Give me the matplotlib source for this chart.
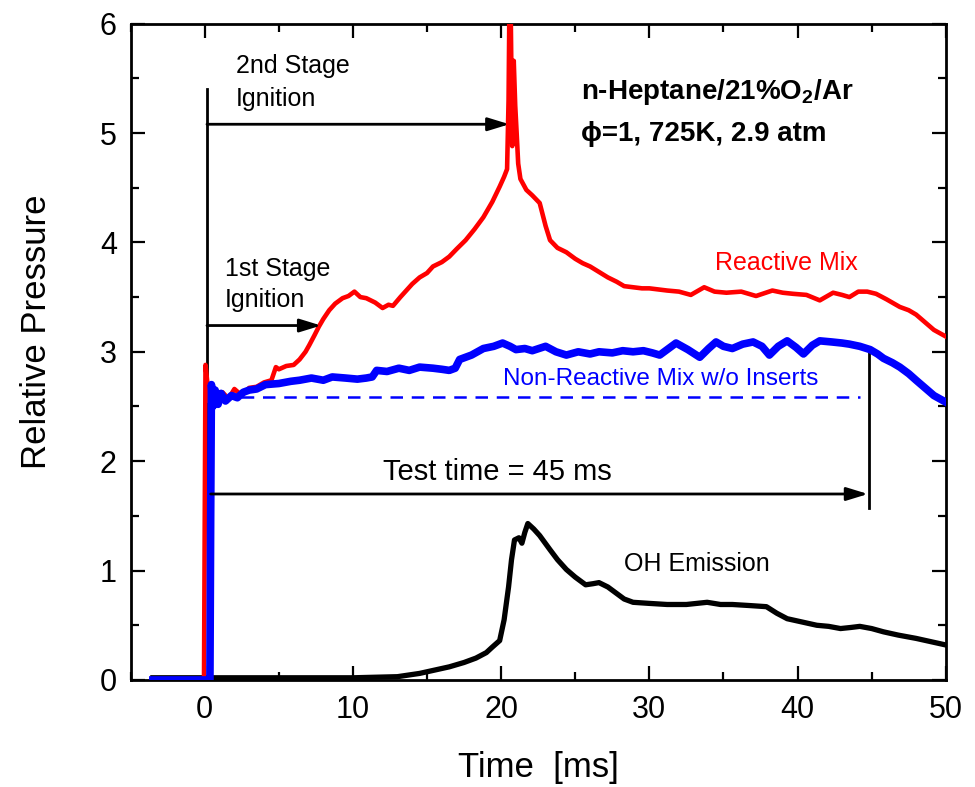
import numpy as np
import matplotlib
matplotlib.use("Agg")
import matplotlib.pyplot as plt
from matplotlib.ticker import MultipleLocator

plt.rcParams['font.family'] = ['Liberation Sans', 'DejaVu Sans']
plt.rcParams['mathtext.fontset'] = 'custom'
plt.rcParams['mathtext.rm'] = 'Liberation Sans'
plt.rcParams['mathtext.bf'] = 'Liberation Sans:bold'

# Reactive mix (red)
red_t = [-3.5, -0.05, 0.0, 0.05, 0.15, 0.3, 0.5, 0.8, 1.2, 1.6, 2.0, 2.5, 3.0, 3.5,
         4.0, 4.5, 4.8, 5.0, 5.5, 6.0, 6.4, 6.8, 7.05, 7.4, 7.7, 8.0, 8.4, 8.8, 9.3,
         9.7, 10.1, 10.5, 10.9, 11.5, 12.0, 12.4, 12.7, 13.2, 13.6, 14.0, 14.5, 15.0,
         15.4, 16.0, 16.5, 17.0, 17.6, 18.2, 18.8, 19.4, 19.9, 20.2, 20.4, 20.5, 20.55,
         20.65, 20.75, 20.85, 20.95, 21.05, 21.15, 21.3, 21.7, 22.1, 22.6, 23.0, 23.3,
         23.8, 24.4, 25.0, 25.5, 26.0, 26.6, 27.2, 27.8, 28.3, 28.9, 29.5, 30.0, 31.2,
         32.0, 32.8, 33.7, 34.4, 35.2, 36.2, 37.2, 38.3, 39.0, 39.7, 40.6, 41.5, 42.4,
         43.0, 43.5, 44.1, 44.7, 45.3, 46.0, 46.9, 47.5, 48.0, 48.6, 49.2, 50.0]
red_p = [0, 0, 1.5, 2.88, 2.75, 2.55, 2.62, 2.58, 2.63, 2.57, 2.66, 2.6, 2.67, 2.68,
         2.72, 2.74, 2.86, 2.84, 2.87, 2.88, 2.93, 3.0, 3.06, 3.15, 3.23, 3.3, 3.38, 3.44,
         3.49, 3.51, 3.55, 3.5, 3.49, 3.45, 3.40, 3.43, 3.42, 3.5, 3.56, 3.62, 3.68, 3.72,
         3.78, 3.82, 3.87, 3.94, 4.02, 4.12, 4.23, 4.37, 4.51, 4.6, 4.67, 5.3, 6.05,
         6.05, 4.88, 5.66, 5.25, 4.99, 4.72, 4.58, 4.48, 4.43, 4.36, 4.15, 4.02,
         3.95, 3.91, 3.85, 3.81, 3.78, 3.73, 3.68, 3.64, 3.6, 3.59, 3.58, 3.58, 3.56,
         3.55, 3.52, 3.59, 3.55, 3.54, 3.55, 3.51, 3.56, 3.54, 3.53, 3.52, 3.47, 3.54,
         3.52, 3.50, 3.55, 3.55, 3.53, 3.48, 3.41, 3.38, 3.34, 3.27, 3.2, 3.14]

# Non-reactive mix w/o inserts (blue)
blue_t = [-3.5, 0.35, 0.4, 0.45, 0.55, 0.7, 0.9, 1.1, 1.4, 1.8, 2.2, 2.6, 3.0, 3.5,
          4.1, 5.0, 5.8, 6.4, 7.2, 8.0, 8.6, 9.5, 10.3, 10.9, 11.3, 11.6, 12.3, 13.1,
          13.8, 14.5, 15.4, 16.0, 16.5, 16.9, 17.2, 18.0, 18.8, 19.5, 20.1, 20.6, 21.0,
          21.6, 22.1, 23.0, 23.7, 24.4, 25.2, 26.0, 26.6, 27.5, 28.2, 28.9, 29.6, 30.2,
          30.7, 31.2, 31.8, 32.6, 33.4, 34.0, 34.5, 35.0, 35.6, 36.3, 37.0, 37.6, 38.1,
          38.7, 39.3, 39.9, 40.4, 41.0, 41.5, 42.3, 43.0, 43.5, 44.2, 44.9, 45.4, 45.8,
          46.4, 46.9, 47.5, 48.0, 48.6, 49.2, 50.0]
blue_p = [0, 0, 1.5, 2.7, 2.5, 2.65, 2.52, 2.62, 2.55, 2.6, 2.58, 2.63, 2.65, 2.66,
          2.7, 2.71, 2.73, 2.74, 2.76, 2.74, 2.77, 2.76, 2.75, 2.76, 2.77, 2.83, 2.82, 2.85,
          2.83, 2.86, 2.85, 2.84, 2.83, 2.85, 2.93, 2.97, 3.03, 3.05, 3.08, 3.05, 3.02,
          3.03, 3.01, 3.05, 3.0, 2.97, 3.0, 2.98, 3.0, 2.99, 3.01, 3.0, 3.01, 2.99,
          2.97, 3.02, 3.08, 3.02, 2.95, 3.03, 3.09, 3.05, 3.03, 3.07, 3.09, 3.05, 2.97,
          3.05, 3.1, 3.04, 2.98, 3.06, 3.1, 3.09, 3.08, 3.07, 3.05, 3.02, 2.98, 2.94,
          2.9, 2.86, 2.8, 2.74, 2.67, 2.6, 2.54]

# Non-reactive reference level (dashed)
ref_t = [1.0, 44.2]
ref_p = [2.59, 2.59]

# OH emission (black)
oh_t = [-3.5, 0, 5, 10, 13, 14.5, 15.5, 16.5, 17.5, 18.3, 19.0, 19.4, 19.9, 20.2, 20.5,
        20.7, 20.9, 21.2, 21.4, 21.6, 21.8, 22.2, 22.6, 23.3, 23.8, 24.4, 25.0, 25.7,
        26.2, 26.6, 27.2, 27.8, 28.3, 28.9, 30.0, 31.2, 32.5, 33.9, 34.8, 35.6, 36.8,
        37.9, 38.6, 39.3, 40.3, 41.3, 42.1, 42.9, 43.6, 44.2, 45.0, 45.8, 46.8, 48.0,
        49.0, 50.0]
oh_p = [0.02, 0.02, 0.02, 0.02, 0.03, 0.06, 0.09, 0.12, 0.16, 0.2, 0.25, 0.3, 0.36, 0.55, 0.85,
        1.1, 1.28, 1.3, 1.25, 1.35, 1.43, 1.38, 1.32, 1.19, 1.1, 1.01, 0.94, 0.87,
        0.88, 0.89, 0.85, 0.79, 0.74, 0.71, 0.70, 0.69, 0.69, 0.71, 0.69, 0.69, 0.68,
        0.67, 0.61, 0.56, 0.53, 0.50, 0.49, 0.47, 0.48, 0.49, 0.47, 0.44, 0.41, 0.38,
        0.35, 0.32]

fig = plt.figure(figsize=(9.75, 7.87), dpi=100)
ax = fig.add_axes([0.134, 0.136, 0.836, 0.834])

# annotation guide lines (under the traces)
ax.plot([0.15, 0.15], [1.7, 5.4], color='k', lw=2, zorder=1)
ax.plot([44.8, 44.8], [1.57, 3.03], color='k', lw=2, zorder=1)

ax.plot(oh_t, oh_p, color='k', lw=3.8, zorder=2)
ax.plot(red_t, red_p, color='#ff0000', lw=3.3, zorder=3)
ax.plot(blue_t, blue_p, color='#0000ff', lw=5.5, zorder=4)
ax.plot(ref_t, ref_p, color='#0000ff', lw=1.8, dashes=(5, 3.5), zorder=4)

arrow = dict(arrowstyle='-|>,head_length=0.65,head_width=0.2', color='k', lw=2,
             shrinkA=0, shrinkB=0, mutation_scale=20)
ax.annotate('', xy=(20.55, 5.08), xytext=(0.15, 5.08), arrowprops=arrow, zorder=5)
ax.annotate('', xy=(7.85, 3.24), xytext=(0.15, 3.24), arrowprops=arrow, zorder=5)
ax.annotate('', xy=(44.75, 1.70), xytext=(0.4, 1.70), arrowprops=arrow, zorder=5)

ax.text(2.1, 5.55, '2nd Stage', fontsize=18, va='baseline')
ax.text(2.1, 5.25, 'Ignition', fontsize=18, va='baseline')
ax.text(1.37, 3.69, '1st Stage', fontsize=18, va='baseline')
ax.text(1.37, 3.41, 'Ignition', fontsize=18, va='baseline')
ax.text(12.0, 1.83, 'Test time = 45 ms', fontsize=21, va='baseline')
ax.text(28.3, 1.0, 'OH Emission', fontsize=18, va='baseline')
ax.text(34.4, 3.75, 'Reactive Mix', fontsize=18, color='#ff0000', va='baseline')
ax.text(20.1, 2.70, 'Non-Reactive Mix w/o Inserts', fontsize=17.5, color='#0000ff',
        va='baseline')
ax.text(25.4, 5.31, r'n-Heptane/21%O$_\mathbf{2}$/Ar', fontsize=20, fontweight='bold',
        va='baseline')
ax.text(25.4, 4.93, '\u03d5=1, 725K, 2.9 atm', fontsize=20, fontweight='bold',
        va='baseline')

ax.set_xlim(-5, 50)
ax.set_ylim(0, 6)
ax.xaxis.set_major_locator(MultipleLocator(10))
ax.xaxis.set_minor_locator(MultipleLocator(5))
ax.yaxis.set_major_locator(MultipleLocator(1))
ax.yaxis.set_minor_locator(MultipleLocator(0.5))
ax.tick_params(which='both', direction='in', top=True, right=True, width=1.6,
               labelsize=22)
ax.tick_params(which='major', length=10)
ax.tick_params(which='minor', length=6)
ax.tick_params(axis='x', pad=11)
ax.tick_params(axis='y', pad=10)
for s in ax.spines.values():
    s.set_linewidth(2)

ax.set_xlabel('Time  [ms]', fontsize=25)
ax.set_ylabel('Relative Pressure', fontsize=25)
ax.xaxis.set_label_coords(0.5, -0.148)
ax.xaxis.label.set_va('baseline')
ax.yaxis.set_label_coords(-0.115, 0.53)
ax.yaxis.label.set_va('center')

fig.savefig('out.png', dpi=100)
